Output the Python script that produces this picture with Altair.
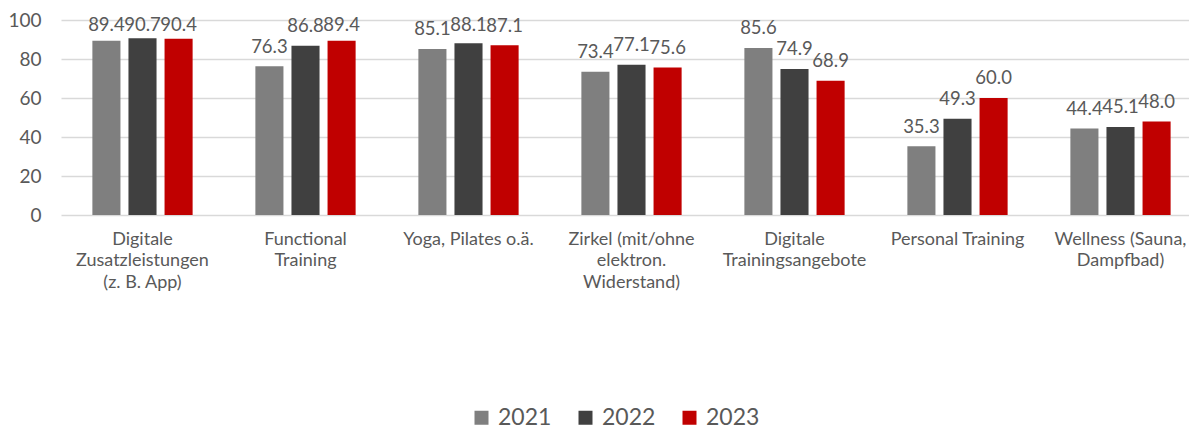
import altair as alt
import pandas as pd

categories = [
    "Digitale\nZusatzleistungen\n(z. B. App)",
    "Functional\nTraining",
    "Yoga, Pilates o.ä.",
    "Zirkel (mit/ohne\nelektron.\nWiderstand)",
    "Digitale\nTrainingsangebote",
    "Personal Training",
    "Wellness (Sauna,\nDampfbad)",
]
years = ["2021", "2022", "2023"]
v2021 = [89.4, 76.3, 85.1, 73.4, 85.6, 35.3, 44.4]
v2022 = [90.7, 86.8, 88.1, 77.1, 74.9, 49.3, 45.1]
v2023 = [90.4, 89.4, 87.1, 75.6, 68.9, 60.0, 48.0]
colors = ["#7F7F7F", "#404040", "#C00000"]

rows = []
for y, vals in zip(years, [v2021, v2022, v2023]):
    for c, v in zip(categories, vals):
        rows.append({"cat": c, "year": y, "value": v})
df = pd.DataFrame(rows)

FONT = "Lato"
TXT = "#595959"

x_axis = alt.Axis(
    title=None,
    labelAngle=0,
    labelExpr="split(datum.label, '\\n')",
    labelFont=FONT,
    labelFontSize=18,
    labelColor=TXT,
    labelLineHeight=21.5,
    labelBaseline="top",
    labelPadding=15,
    labelLimit=0,
    labelOverlap=False,
    ticks=False,
    domain=False,
    grid=False,
)
y_axis = alt.Axis(
    title=None,
    values=[0, 20, 40, 60, 80, 100],
    labelFont=FONT,
    labelFontSize=19,
    labelColor=TXT,
    labelPadding=20,
    labelOverlap=False,
    labelBound=False,
    labelFlush=False,
    ticks=False,
    domain=False,
    gridColor="#D9D9D9",
    gridWidth=1.3,
)
x_scale = alt.Scale(range=[0, 1141], paddingInner=0.385, paddingOuter=0.1925)
y_scale = alt.Scale(domain=[0, 100])
xoff = alt.XOffset("year:N", sort=years, scale=alt.Scale(paddingInner=0.222))

base = alt.Chart(df)

bars = base.mark_bar().encode(
    x=alt.X("cat:N", sort=categories, scale=x_scale, axis=x_axis),
    xOffset=xoff,
    y=alt.Y("value:Q", scale=y_scale, axis=y_axis),
    color=alt.Color(
        "year:N",
        sort=years,
        scale=alt.Scale(domain=years, range=colors),
        legend=alt.Legend(
            title=None,
            orient="none",
            direction="horizontal",
            legendX=409,
            legendY=386,
            symbolType="square",
            symbolSize=196,
            symbolStrokeWidth=0,
            labelFont=FONT,
            labelFontSize=23,
            labelColor=TXT,
            labelOffset=5,
            columnPadding=22,
            padding=0,
        ),
    ),
)

labels = base.transform_calculate(
    ly="min(datum.value + 7, 94.5)"
).mark_text(
    font=FONT, fontSize=18.5, color=TXT, baseline="alphabetic", align="center"
).encode(
    x=alt.X("cat:N", sort=categories, scale=x_scale, axis=x_axis),
    xOffset=xoff,
    y=alt.Y("ly:Q", scale=y_scale, axis=y_axis),
    text=alt.Text("value:Q", format=".1f"),
)

chart = (
    alt.layer(bars, labels)
    .properties(
        width=1128,
        height=195,
        autosize=alt.AutoSizeParams(type="none"),
        padding={"left": 53, "top": 12, "right": 0, "bottom": 214},
    )
    .configure_view(stroke=None)
)

chart.save("out.html", embed_options={"renderer": "svg", "actions": False})
